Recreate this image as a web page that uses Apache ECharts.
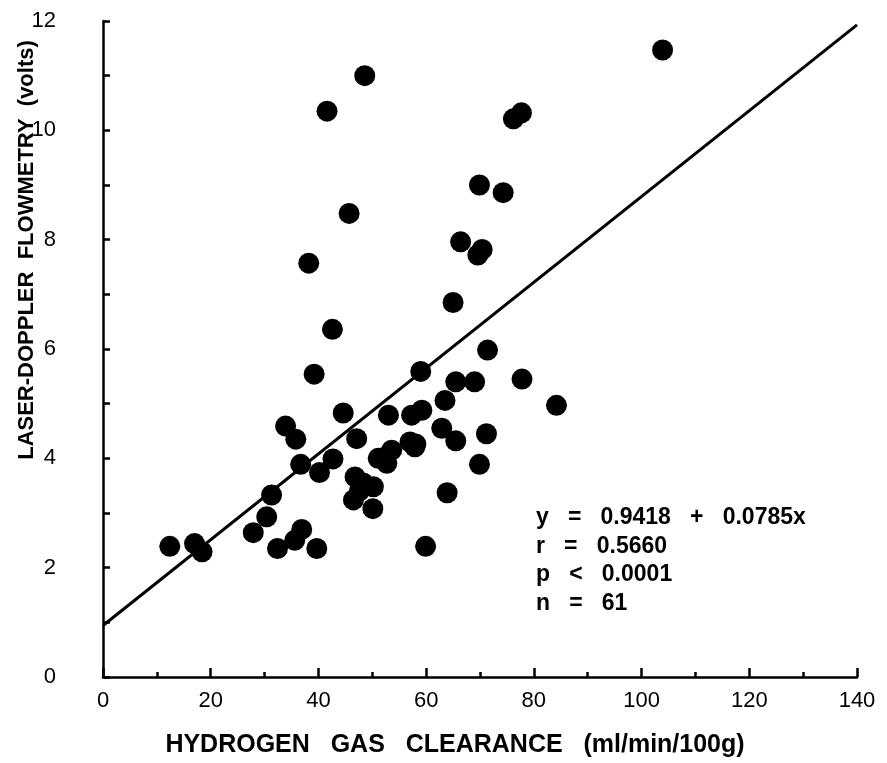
<!DOCTYPE html>
<html>
<head>
<meta charset="utf-8">
<script src="https://cdn.jsdelivr.net/npm/echarts@6/dist/echarts.min.js"></script>
<style>html,body{margin:0;padding:0;background:#fff}#c{width:887px;height:763px}</style>
</head>
<body>
<div id="c"></div>
<script>
// Hydrogen gas clearance (ml/min/100g)
const clearance = [12.4,17.0,18.4,27.9,30.4,31.3,32.4,35.6,36.9,39.7,
  36.7,40.2,42.7,33.9,35.8,44.6,39.2,42.6,38.2,45.7,
  41.6,48.6,47.1,46.8,50.2,46.5,50.1,48.3,51.1,53.6,
  52.7,53.0,57.3,59.2,57.0,57.9,59.0,59.9,63.5,62.9,
  65.5,63.9,65.5,69.0,71.4,71.2,69.9,65.0,66.4,69.6,
  70.4,69.9,74.3,76.2,77.7,77.8,84.2,103.9,52.3,58.1,47.6];
// Laser-Doppler flowmetry (volts)
const flowmetry = [2.39,2.44,2.29,2.64,2.93,3.33,2.35,2.50,2.70,2.35,
  3.89,3.74,3.99,4.59,4.35,4.83,5.54,6.36,7.57,8.48,
  10.35,11.0,4.36,3.66,3.48,3.24,3.08,3.55,4.00,4.15,
  3.91,4.79,4.79,4.88,4.30,4.21,5.59,2.39,5.06,4.55,
  4.32,3.37,5.40,5.40,5.98,4.45,3.89,6.85,7.96,7.72,
  7.82,9.00,8.86,10.21,10.32,5.45,4.97,11.47,4.02,4.26,3.40];
// Regression line endpoints (y = 0.9418 + 0.0785x)
const fitX = [0, 140];
const fitY = [0.9418, 11.93];
const xTicks = [0,20,40,60,80,100,120,140];
const yTicks = [0,2,4,6,8,10,12];
const statsText = ['y   =   0.9418   +   0.0785x','r   =   0.5660','p   <   0.0001','n   =   61'];

const pts = clearance.map((x,i)=>[x, flowmetry[i]]);
const fit = fitX.map((x,i)=>[x, fitY[i]]);
const FONT = '"Liberation Sans", Arial, sans-serif';

const chart = echarts.init(document.getElementById('c'), null, {renderer:'canvas'});
chart.setOption({
  backgroundColor:'#fff',
  animation:false,
  grid:{left:103, right:30, top:21, bottom:86},
  xAxis:{
    type:'value', min:xTicks[0], max:xTicks[xTicks.length-1], interval:20,
    axisLine:{show:true, onZero:false, lineStyle:{color:'#000', width:2.5}},
    axisTick:{show:true, inside:true, length:9, lineStyle:{color:'#000', width:2.5}},
    minorTick:{show:true, splitNumber:2, length:5, lineStyle:{color:'#000', width:2.5}},
    splitLine:{show:false},
    axisLabel:{color:'#000', fontFamily:FONT, fontSize:22, margin:13}
  },
  yAxis:{
    type:'value', min:yTicks[0], max:yTicks[yTicks.length-1], interval:2,
    axisLine:{show:true, onZero:false, lineStyle:{color:'#000', width:2.5}},
    axisTick:{show:true, inside:true, length:7, lineStyle:{color:'#000', width:2.5}},
    minorTick:{show:true, splitNumber:2, length:7, lineStyle:{color:'#000', width:2.5}},
    splitLine:{show:false},
    axisLabel:{color:'#000', fontFamily:FONT, fontSize:22, margin:47}
  },
  series:[
    {type:'line', data:fit, symbol:'none', lineStyle:{color:'#000', width:3}, z:2},
    {type:'scatter', data:pts, symbol:'circle', symbolSize:21, itemStyle:{color:'#000', opacity:1}, z:3}
  ],
  graphic:[
    {type:'text', left:536, top:503, style:{text:statsText.join('\n'), font:'bold 23px '+FONT, fill:'#000', lineHeight:28.8}},
    {type:'text', x:455, y:745, style:{text:'HYDROGEN   GAS   CLEARANCE   (ml/min/100g)', font:'bold 25px '+FONT, fill:'#000', align:'center', verticalAlign:'middle'}},
    {type:'text', x:27, y:250, rotation:Math.PI/2, style:{text:'LASER-DOPPLER  FLOWMETRY  (volts)', font:'bold 22px '+FONT, fill:'#000', align:'center', verticalAlign:'middle'}}
  ]
});
</script>
</body>
</html>
